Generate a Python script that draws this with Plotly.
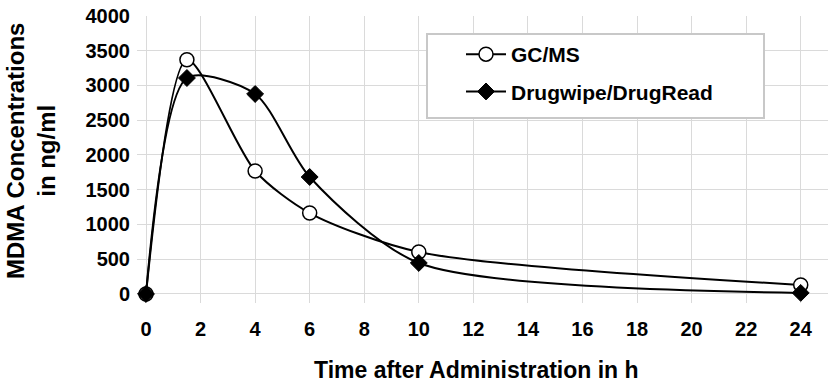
import plotly.graph_objects as go

# Sampling times (h) and measured MDMA concentrations (ng/ml)
hours = [0, 1.5, 4, 6, 10, 24]
gcms = [0, 3370, 1770, 1165, 604, 130]
drugwipe = [0, 3108, 2878, 1683, 446, 15]

x_ticks = list(range(0, 25, 2))
y_ticks = list(range(0, 4001, 500))

FONT = "Liberation Sans, Arial, sans-serif"

fig = go.Figure()

fig.add_trace(go.Scatter(
    x=hours, y=gcms, name="GC/MS", legendgroup="a",
    mode="lines+markers",
    line=dict(color="black", width=2, shape="spline", smoothing=0.75),
    marker=dict(symbol="circle", size=14, color="white",
                line=dict(color="black", width=1.5)),
))
fig.add_trace(go.Scatter(
    x=hours, y=drugwipe, name="Drugwipe/DrugRead", legendgroup="b",
    mode="lines+markers",
    line=dict(color="black", width=2, shape="spline", smoothing=0.75),
    marker=dict(symbol="diamond", size=13, color="black",
                line=dict(color="black", width=1)),
))

L, R, T, B = 137, 2, 16, 83
W, H = 830, 386
pw, ph = W - L - R, H - T - B


def px_x(p):
    return (p - L) / pw


def px_y(p):
    return (H - B - p) / ph


# legend frame
fig.add_shape(type="rect", xref="paper", yref="paper",
              x0=px_x(427), x1=px_x(764), y0=px_y(118), y1=px_y(34),
              line=dict(color="#c8c8c8", width=2), fillcolor="white",
              layer="above")

fig.add_annotation(text="MDMA Concentrations<br>in ng/ml", textangle=-90,
                   xref="paper", yref="paper", x=px_x(31), y=px_y(151),
                   xanchor="center", yanchor="middle", showarrow=False,
                   font=dict(family=FONT, size=24, color="black", weight="bold"))
fig.add_annotation(text="Time after Administration in h",
                   xref="paper", yref="paper", x=px_x(476), y=px_y(370),
                   xanchor="center", yanchor="middle", showarrow=False,
                   font=dict(family=FONT, size=23, color="black", weight="bold"))

fig.update_layout(
    width=W, height=H,
    margin=dict(l=L, r=R, t=T, b=B),
    paper_bgcolor="white", plot_bgcolor="white",
    font=dict(family=FONT, color="black"),
    showlegend=True,
    legend=dict(x=px_x(461), y=px_y(34), xanchor="left", yanchor="top",
                bgcolor="rgba(0,0,0,0)", borderwidth=0,
                traceorder="grouped", tracegroupgap=7, itemwidth=40,
                font=dict(family=FONT, size=21, color="black", weight="bold")),
    xaxis=dict(range=[-0.33, 25], tickvals=x_ticks, showgrid=True,
               gridcolor="#dadada", gridwidth=1, zeroline=False,
               showline=False, ticks="", ticklabelstandoff=12,
               tickfont=dict(family=FONT, size=20, color="black", weight="bold")),
    yaxis=dict(range=[-130, 4000], tickvals=y_ticks, showgrid=True,
               gridcolor="#dadada", gridwidth=1, zeroline=False,
               showline=False, ticks="", ticklabelstandoff=6,
               tickfont=dict(family=FONT, size=20, color="black", weight="bold")),
)

fig.write_html("out.html")
